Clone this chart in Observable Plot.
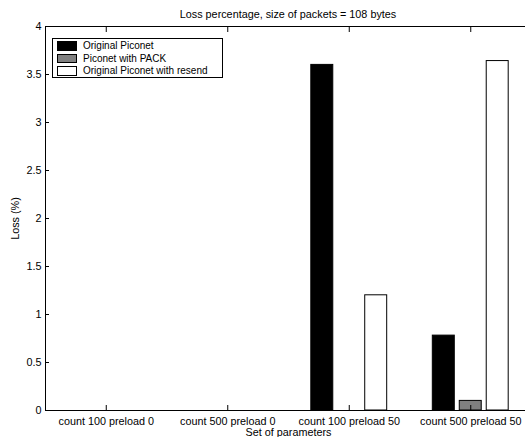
<!DOCTYPE html>
<html><head><meta charset="utf-8">
<script src="https://cdn.jsdelivr.net/npm/d3@7"></script>
<script src="https://cdn.jsdelivr.net/npm/@observablehq/plot@0.6"></script>
<style>
html,body{margin:0;padding:0;background:#fff;overflow:hidden}
#wrap{position:relative;width:525px;height:437px;overflow:hidden;font-family:"Liberation Sans",Arial,sans-serif;color:#000}
#wrap svg{position:absolute;left:0;top:0}
#title{position:absolute;top:8px;left:45px;width:486px;text-align:center;font-size:10.8px;line-height:13px}
#legend{position:absolute;left:52px;top:38px;width:171px;height:40px;border:1px solid #000;background:#fff;box-sizing:border-box;font-size:10px}
.row{position:absolute;left:4px;height:12px;line-height:12px;white-space:nowrap}
.sw{position:absolute;left:0;top:1px;width:20px;height:9.5px;border:1px solid #000;box-sizing:border-box}
.lab{position:absolute;left:26px;top:0}
</style></head>
<body>
<div id="wrap"><div id="title"></div><div id="legend"></div></div>
<script>
const chartTitle = "Loss percentage, size of packets = 108 bytes";
const xLabel = "Set of parameters";
const yLabel = "Loss (%)";
const categories = ["count 100 preload 0", "count 500 preload 0", "count 100 preload 50", "count 500 preload 50"];
const seriesNames = ["Original Piconet", "Piconet with PACK", "Original Piconet with resend"];
const seriesColors = ["#000000", "#808080", "#ffffff"];
const originalPiconet = [0, 0, 3.60, 0.78];
const piconetWithPack = [0, 0, 0, 0.10];
const originalWithResend = [0, 0, 1.20, 3.64];
const yTicks = [0, 0.5, 1, 1.5, 2, 2.5, 3, 3.5, 4];

const seriesValues = [originalPiconet, piconetWithPack, originalWithResend];
const table = [];
categories.forEach((c, i) => seriesNames.forEach((s, j) => table.push({category: c, series: s, value: seriesValues[j][i]})));

const chart = Plot.plot({
  width: 525, height: 437,
  marginTop: 26, marginBottom: 27, marginLeft: 45, marginRight: -6,
  style: {fontFamily: "Liberation Sans, Arial, sans-serif", fontSize: "10.8px", background: "transparent", color: "#000"},
  fx: {domain: categories, padding: 0, round: false},
  x: {domain: seriesNames, paddingInner: 0.185, paddingOuter: 0.846, round: false, axis: null},
  y: {domain: [0, 4]},
  color: {domain: seriesNames, range: seriesColors},
  marks: [
    Plot.barY(table, {fx: "category", x: "series", y: "value", fill: "series", stroke: "#000", strokeWidth: 1}),
    Plot.frame({facet: "super", stroke: "#000", strokeWidth: 1}),
    Plot.axisY({ticks: yTicks, tickSize: -4, tickPadding: 8, tickFormat: d => String(d), label: yLabel, labelArrow: "none", labelAnchor: "center", labelOffset: 34, stroke: "#000"}),
    Plot.axisFx({anchor: "bottom", tickSize: -5, tickPadding: 12, label: xLabel, labelArrow: "none", labelAnchor: "center", labelOffset: 25, stroke: "#000"}),
    Plot.axisFx({anchor: "top", tickSize: -5, tickFormat: () => "", label: null, stroke: "#000"})
  ]
});
const wrap = document.getElementById("wrap");
wrap.insertBefore(chart, wrap.firstChild);
document.getElementById("title").textContent = chartTitle;
const legend = document.getElementById("legend");
seriesNames.forEach((s, j) => {
  const row = document.createElement("div");
  row.className = "row";
  row.style.top = (1 + j * 12.7) + "px";
  row.innerHTML = `<div class="sw" style="background:${seriesColors[j]}"></div><div class="lab"></div>`;
  row.querySelector(".lab").textContent = s;
  legend.appendChild(row);
});
</script>
</body></html>
